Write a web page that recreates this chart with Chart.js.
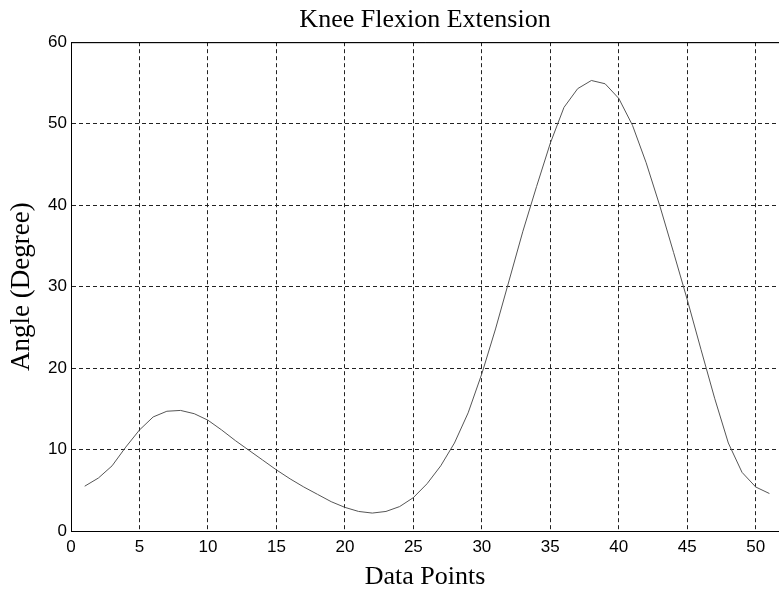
<!DOCTYPE html>
<html>
<head>
<meta charset="utf-8">
<script src="https://cdn.jsdelivr.net/npm/chart.js@4.4.1/dist/chart.umd.min.js"></script>
<style>
  html, body { margin: 0; padding: 0; background: #fff; }
  #wrap { width: 779px; height: 593px; }
</style>
</head>
<body>
<div id="wrap"><canvas id="chart"></canvas></div>
<script>
const dataPoints = [1, 2, 3, 4, 5, 6, 7, 8, 9, 10, 11, 12, 13, 14, 15, 16, 17, 18, 19, 20,
  21, 22, 23, 24, 25, 26, 27, 28, 29, 30, 31, 32, 33, 34, 35, 36, 37, 38, 39, 40,
  41, 42, 43, 44, 45, 46, 47, 48, 49, 50, 51];
const kneeAngle = [5.5, 6.5, 8.0, 10.3, 12.4, 14.0, 14.7, 14.8, 14.4, 13.6,
  12.4, 11.1, 9.9, 8.7, 7.5, 6.4, 5.4, 4.5, 3.6, 2.9,
  2.4, 2.2, 2.4, 3.0, 4.1, 5.8, 8.0, 10.8, 14.5, 19.3,
  24.8, 30.8, 36.8, 42.3, 47.6, 52.0, 54.3, 55.3, 54.9, 53.1,
  49.8, 45.2, 39.9, 34.2, 28.4, 22.3, 16.3, 10.8, 7.2, 5.4,
  4.6];
const xTicks = [0, 5, 10, 15, 20, 25, 30, 35, 40, 45, 50];
const yTicks = [0, 10, 20, 30, 40, 50, 60];

const serif = "'Liberation Serif', 'Times New Roman', serif";
const sans = "'Liberation Sans', Arial, sans-serif";

// solid frame line along the top of the plot
const topFrame = {
  id: 'topFrame',
  afterDraw(chart) {
    const { ctx, chartArea } = chart;
    ctx.save();
    ctx.strokeStyle = '#000';
    ctx.lineWidth = 1;
    ctx.beginPath();
    ctx.moveTo(chartArea.left, chartArea.top + 0.5);
    ctx.lineTo(chartArea.right, chartArea.top + 0.5);
    ctx.stroke();
    ctx.restore();
  }
};

new Chart(document.getElementById('chart'), {
  type: 'line',
  data: {
    datasets: [{
      label: 'Knee Flexion Extension',
      data: dataPoints.map((x, i) => ({ x: x, y: kneeAngle[i] })),
      borderColor: '#555',
      borderWidth: 1,
      pointRadius: 0,
      tension: 0,
      fill: false
    }]
  },
  options: {
    responsive: true,
    maintainAspectRatio: false,
    animation: false,
    layout: { padding: 0 },
    plugins: {
      legend: { display: false },
      tooltip: { enabled: false },
      title: {
        display: true,
        fullSize: false,
        text: 'Knee Flexion Extension',
        color: '#000',
        font: { family: serif, size: 26, weight: 'normal' },
        padding: { top: 5, bottom: 6 }
      }
    },
    scales: {
      x: {
        type: 'linear',
        min: 0,
        max: 51.7,
        afterFit: s => { s.height = 62; },
        afterBuildTicks: s => { s.ticks = xTicks.map(v => ({ value: v })); },
        ticks: { color: '#000', font: { family: sans, size: 17 }, padding: 6, maxRotation: 0, includeBounds: false },
        grid: { color: '#222', lineWidth: 1, drawTicks: false },
        border: { display: true, color: '#000', width: 1, dash: [4, 3] },
        title: {
          display: true,
          text: 'Data Points',
          color: '#000',
          font: { family: serif, size: 26, weight: 'normal' },
          padding: { top: 2, bottom: 0 }
        }
      },
      y: {
        min: 0,
        max: 60,
        afterFit: s => { s.width = 71; },
        afterBuildTicks: s => { s.ticks = yTicks.map(v => ({ value: v })); },
        ticks: { color: '#000', font: { family: sans, size: 17 }, padding: 4 },
        grid: { color: '#222', lineWidth: 1, drawTicks: false },
        border: {
          display: true, color: '#000', width: 1,
          dash: ctx => (ctx.tick && ctx.tick.value === 60) ? [] : [4, 3]
        },
        title: {
          display: true,
          text: 'Angle (Degree)',
          color: '#000',
          font: { family: serif, size: 27, weight: 'normal' },
          padding: { top: 6, bottom: 0 }
        }
      }
    }
  },
  plugins: [topFrame]
});
</script>
</body>
</html>
